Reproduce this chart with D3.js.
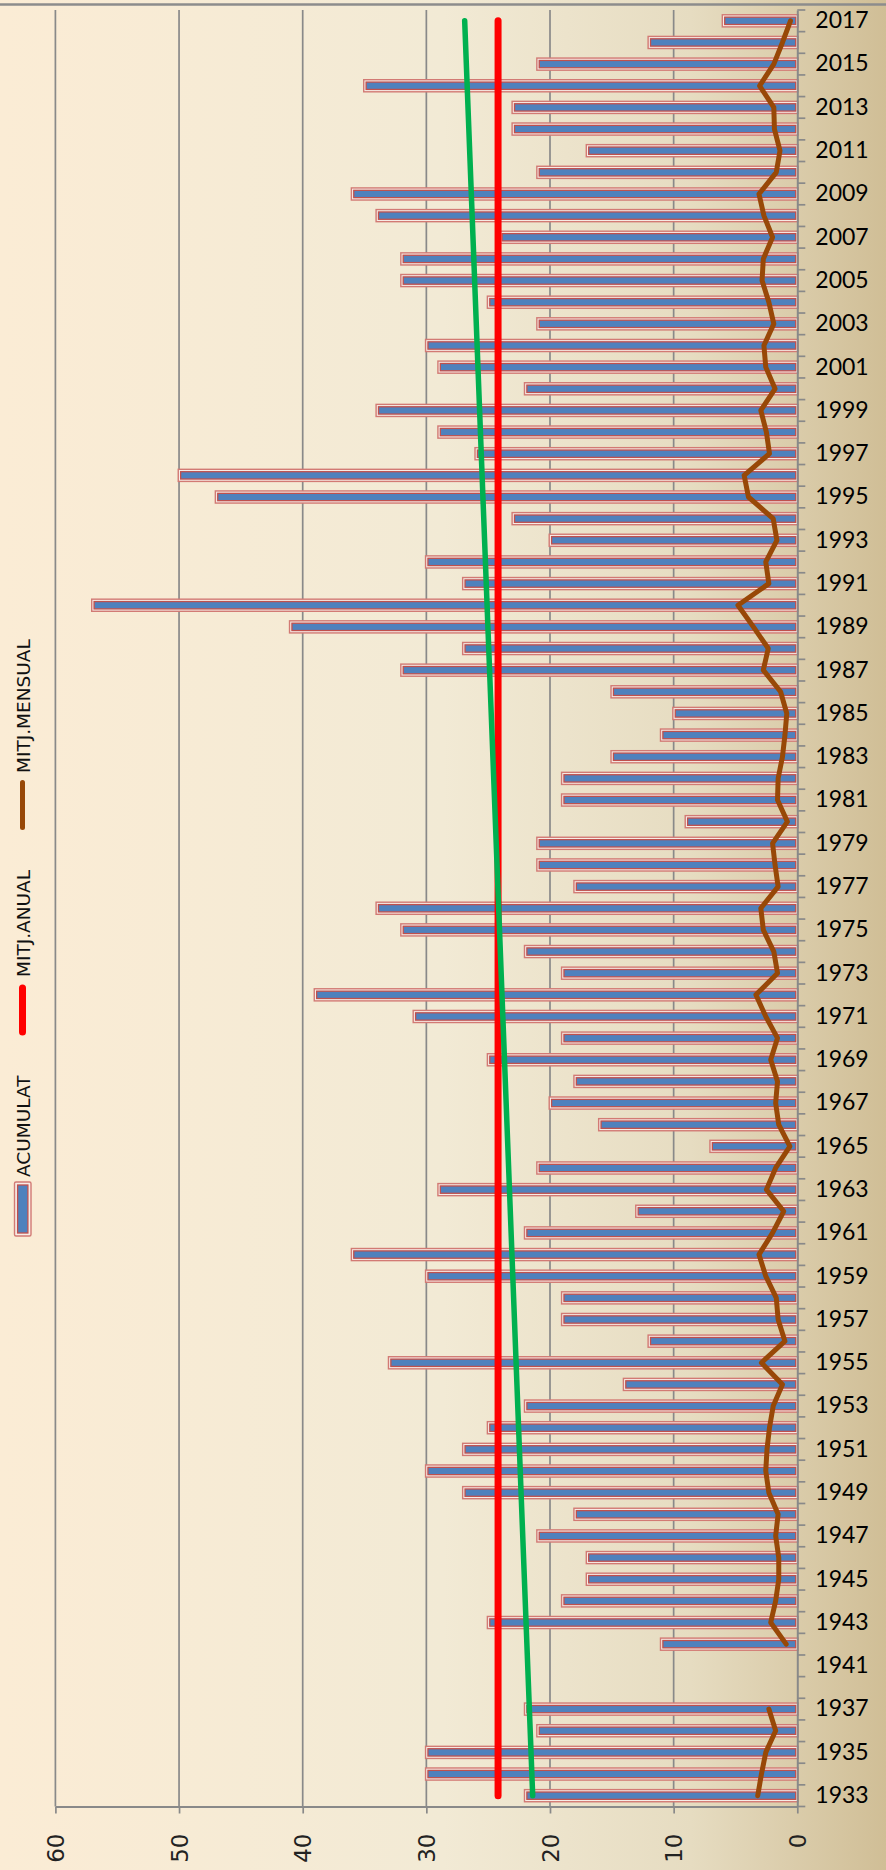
<!DOCTYPE html>
<html>
<head>
<meta charset="utf-8">
<script src="https://cdn.jsdelivr.net/npm/d3@7"></script>
<style>
body { margin: 0; }
</style>
</head>
<body>
<svg id="plot1" width="886" height="1870"></svg>
<script>
var years = ["1933","1934","1935","1936","1937","1940","1941","1942","1943","1944","1945","1946","1947","1948","1949",
  "1950","1951","1952","1953","1954","1955","1956","1957","1958","1959","1960","1961","1962","1963","1964","1965",
  "1966","1967","1968","1969","1970","1971","1972","1973","1974","1975","1976","1977","1978","1979","1980","1981",
  "1982","1983","1984","1985","1986","1987","1988","1989","1990","1991","1992","1993","1994","1995","1996","1997",
  "1998","1999","2000","2001","2002","2003","2004","2005","2006","2007","2008","2009","2010","2011","2012","2013",
  "2014","2015","2016","2017"];
var acumulat = [22,30,30,21,22,null,null,11,25,19,17,17,21,18,27,
  30,27,25,22,14,33,12,19,19,30,36,22,13,29,21,7,
  16,20,18,25,19,31,39,19,22,32,34,18,21,21,9,19,
  19,15,11,10,15,32,27,41,57,27,30,20,23,47,50,26,
  29,34,22,29,30,21,25,32,32,24,34,36,21,17,23,23,
  35,21,12,6];
var mitjMensual = [3.2,2.9,2.55,1.75,2.3,null,null,0.9,2.15,1.75,1.5,1.5,1.75,1.55,2.3,
  2.55,2.45,2.25,1.95,1.2,2.9,1.0,1.55,1.7,2.55,3.1,2.0,1.1,2.5,1.75,0.6,
  1.5,1.75,1.6,2.15,1.6,2.55,3.35,1.6,1.9,2.75,2.95,1.55,1.8,2.0,0.8,1.6,
  1.55,1.2,1.0,0.85,1.35,2.75,2.35,3.55,4.8,2.3,2.55,1.65,1.95,3.95,4.3,2.25,
  2.5,2.95,1.8,2.55,2.7,1.9,2.3,2.85,2.75,2.0,2.7,3.1,1.7,1.4,1.85,1.9,
  3.05,1.9,1.2,0.55];
var mitjAnual = [["1933", 24.2], ["2017", 24.2]];
var tendencia = [["1933", 21.4], ["2017", 26.9]];
var valueTicks = [0, 10, 20, 30, 40, 50, 60];
var gridTicks = [10, 20, 30, 40, 50, 60];
var legendNames = ["ACUMULAT", "MITJ.ANUAL", "MITJ.MENSUAL"];

function init() {
    var svg = d3.select('#plot1');
    var w = 886, h = 1870;
    var top = 10, bottom = 1806.5, left = 55.4, right = 797.3;
    var axisClr = '#898989';

    // background
    var grad = svg.append('defs').append('linearGradient').attr('id', 'bg')
        .attr('x1', '0%').attr('x2', '100%').attr('y1', '0%').attr('y2', '0%');
    grad.append('stop').attr('offset', '0%').attr('stop-color', '#FBECD5');
    grad.append('stop').attr('offset', '50%').attr('stop-color', '#F2EAD5');
    grad.append('stop').attr('offset', '78%').attr('stop-color', '#E6DCC1');
    grad.append('stop').attr('offset', '100%').attr('stop-color', '#D0BE96');
    svg.append('rect').attr('width', w).attr('height', h).attr('fill', 'url(#bg)');
    svg.append('line').attr('x1', 0).attr('x2', w).attr('y1', 4.5).attr('y2', 4.5)
        .attr('stroke', '#8c8c8c').attr('stroke-width', 2.5);

    var x = d3.scaleLinear().domain([0, 60]).range([right, left]);
    var y = d3.scaleBand().domain(years.slice().reverse()).range([top, bottom])
        .paddingInner(0.44).paddingOuter(0.22);
    var step = y.step();
    var bw = y.bandwidth();
    var cy = function(yr) { return y(yr) + bw / 2; };

    // gridlines
    svg.append('g').selectAll('line').data(gridTicks).enter().append('line')
        .attr('x1', function(d) { return x(d); }).attr('x2', function(d) { return x(d); })
        .attr('y1', top).attr('y2', bottom)
        .attr('stroke', axisClr).attr('stroke-width', 1.7);

    // bars
    var rows = years.map(function(yr, i) { return {year: yr, v: acumulat[i]}; })
        .filter(function(d) { return d.v != null; });
    var bars = svg.append('g').selectAll('g').data(rows).enter().append('g');
    bars.append('rect')
        .attr('x', function(d) { return x(d.v) - 0.8; })
        .attr('y', function(d) { return y(d.year); })
        .attr('width', function(d) { return x(0) - x(d.v) + 1.6; })
        .attr('height', bw)
        .attr('fill', '#F7ECE6').attr('stroke', '#D27A74').attr('stroke-width', 1.4);
    bars.append('rect')
        .attr('x', function(d) { return x(d.v) + 1.6; })
        .attr('y', function(d) { return y(d.year) + 2.4; })
        .attr('width', function(d) { return x(0) - x(d.v) - 3.2; })
        .attr('height', bw - 4.8)
        .attr('fill', '#4F81BD').attr('stroke', '#C0504D').attr('stroke-width', 1.3);

    // value axis (bottom)
    var xAxis = svg.append('g')
        .attr('transform', 'translate(0,' + bottom + ')')
        .call(d3.axisBottom(x).tickValues(valueTicks).tickSize(7).tickSizeOuter(0).tickPadding(0));
    xAxis.select('.domain').attr('stroke', axisClr).attr('stroke-width', 2);
    xAxis.selectAll('.tick line').attr('stroke', axisClr).attr('stroke-width', 1.7);
    xAxis.selectAll('.tick text')
        .attr('transform', 'translate(0,27) rotate(-90)')
        .attr('text-anchor', 'end').attr('x', 0).attr('y', 0).attr('dy', '0.36em')
        .attr('font-family', 'DejaVu Sans').attr('font-size', 23).attr('fill', '#222');

    // category axis (right)
    var yAxis = svg.append('g')
        .attr('transform', 'translate(' + right + ',0)')
        .call(d3.axisRight(y).tickValues(years.filter(function(d, i) { return i % 2 === 0; }))
            .tickSize(0).tickSizeOuter(0).tickPadding(18));
    yAxis.select('.domain').attr('stroke', axisClr).attr('stroke-width', 2);
    yAxis.selectAll('.tick text')
        .attr('font-family', 'Lato').attr('font-size', 23).attr('fill', '#000');
    var bounds = d3.range(years.length + 1).map(function(i) { return top + i * step; });
    yAxis.append('g').selectAll('line').data(bounds).enter().append('line')
        .attr('x1', 0).attr('x2', 8)
        .attr('y1', function(d) { return d; }).attr('y2', function(d) { return d; })
        .attr('stroke', axisClr).attr('stroke-width', 1.7);

    // lines
    var line = d3.line()
        .defined(function(d) { return d[1] != null; })
        .x(function(d) { return x(d[1]); })
        .y(function(d) { return cy(d[0]); });
    svg.append('path').datum(mitjAnual).attr('d', line)
        .attr('fill', 'none').attr('stroke', '#FF0000').attr('stroke-width', 7)
        .attr('stroke-linecap', 'round');
    svg.append('path').datum(years.map(function(yr, i) { return [yr, mitjMensual[i]]; })).attr('d', line)
        .attr('fill', 'none').attr('stroke', '#984807').attr('stroke-width', 5)
        .attr('stroke-linecap', 'round').attr('stroke-linejoin', 'round');
    svg.append('path').datum(tendencia).attr('d', line)
        .attr('fill', 'none').attr('stroke', '#00B050').attr('stroke-width', 5.5)
        .attr('stroke-linecap', 'round');

    // legend (rotated)
    var lg = svg.append('g');
    lg.append('rect').attr('x', 14.5).attr('y', 1182).attr('width', 16.5).attr('height', 54)
        .attr('rx', 1.5).attr('fill', '#F7ECE6').attr('stroke', '#D27A74').attr('stroke-width', 1.4);
    lg.append('rect').attr('x', 17.6).attr('y', 1185).attr('width', 10.3).attr('height', 48)
        .attr('fill', '#4F81BD').attr('stroke', '#C0504D').attr('stroke-width', 1.3);
    lg.append('line').attr('x1', 22.5).attr('x2', 22.5).attr('y1', 988).attr('y2', 1032)
        .attr('stroke', '#FF0000').attr('stroke-width', 7).attr('stroke-linecap', 'round');
    lg.append('line').attr('x1', 22.5).attr('x2', 22.5).attr('y1', 782.5).attr('y2', 827.5)
        .attr('stroke', '#984807').attr('stroke-width', 5).attr('stroke-linecap', 'round');
    var lpos = [1177, 977, 773];
    lg.selectAll('text').data(legendNames).enter().append('text')
        .attr('transform', function(d, i) { return 'translate(29.5,' + lpos[i] + ') rotate(-90)'; })
        .attr('font-family', 'DejaVu Sans').attr('font-size', 18.5).attr('fill', '#111')
        .text(function(d) { return d; });
}

init();
</script>
</body>
</html>
